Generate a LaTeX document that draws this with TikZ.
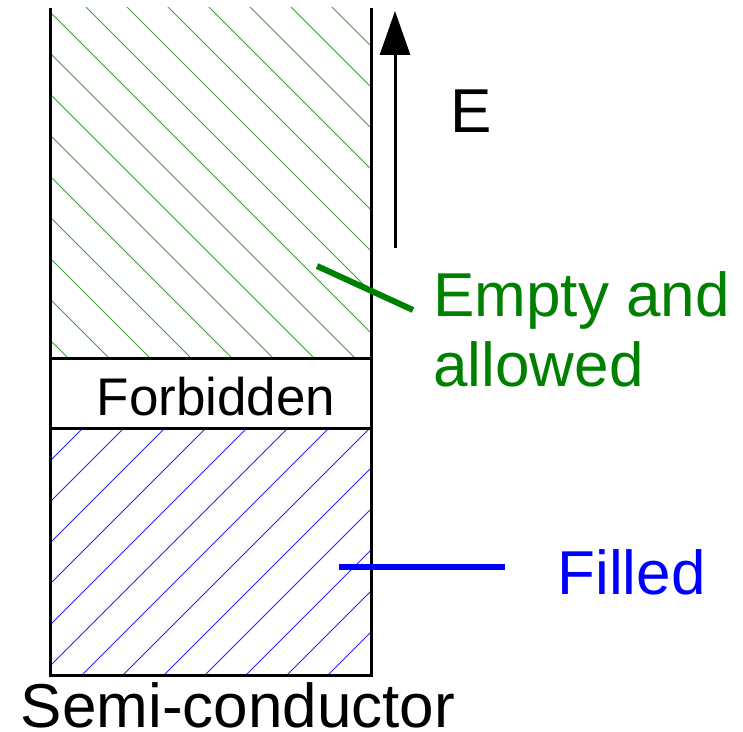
\documentclass[tikz,border=0pt]{standalone}
\usepackage{fontspec}
\setmainfont{Liberation Sans}
\usetikzlibrary{arrows.meta}
\definecolor{fillblue}{HTML}{0000FF}
\definecolor{emptygreen}{HTML}{008000}

\begin{document}
\begin{tikzpicture}[
    x=0.5pt, y=-0.5pt,
    wall/.style={line width=1.5pt, black},
    hatchgreen/.style={line width=0.5pt, emptygreen!75},
    hatchblue/.style={line width=0.5pt, fillblue!85},
    pointer/.style={line width=3pt},
    note/.style={anchor=base west, inner sep=0pt, align=left,
        font=\fontsize{31}{35}\selectfont}
]
\useasboundingbox (0,0) rectangle (743,732);

% corners of the band column
\coordinate (topleft)  at (50,8);
\coordinate (topright) at (371,8);
\coordinate (botleft)  at (50,675);
\coordinate (botright) at (371,675);

% hatching of the empty band
\begin{scope}
  \clip (50,8) rectangle (371,358);
  \foreach \k in {-12,...,8}
    \draw[hatchgreen] (79+41*\k,0) -- ++(700,700);
\end{scope}

% hatching of the filled band
\begin{scope}
  \clip (50,428) rectangle (371,675);
  \foreach \k in {-12,...,12}
    \draw[hatchblue] (757+41*\k,0) -- ++(-700,700);
\end{scope}

% column walls and band edges
\draw[wall] (topleft) -- (botleft) -- (botright) -- (topright);
\draw[wall] (50,358) -- (371,358);
\draw[wall] (50,428) -- (371,428);

% texts
\node[anchor=base, inner sep=0pt, font=\fontsize{26.5}{30}\selectfont]
    (forbidden) at (216,415) {Forbidden};
\node[anchor=base, inner sep=0pt, font=\fontsize{31}{35}\selectfont]
    (semi) at (238,727) {Semi-conductor};
\node[note] (energy) at (450,133) {E};
\node[note, text=emptygreen] (empty) at (433,386) {Empty and\\allowed};
\node[note, text=fillblue] (filled) at (557,594) {Filled};

% energy axis
\coordinate (ebase) at (395,248);
\coordinate (etip)  at (395,11);
\draw[line width=1.5pt, -{Triangle[length=22pt, width=15pt]}] (ebase) -- (etip);

% pointers
\coordinate (emptyin)  at (317,266);
\coordinate (emptyout) at (413,310);
\draw[pointer, emptygreen] (emptyin) -- (emptyout);
\coordinate (filledin)  at (339,567);
\coordinate (filledout) at (505,567);
\draw[pointer, fillblue] (filledin) -- (filledout);

\end{tikzpicture}
\end{document}
